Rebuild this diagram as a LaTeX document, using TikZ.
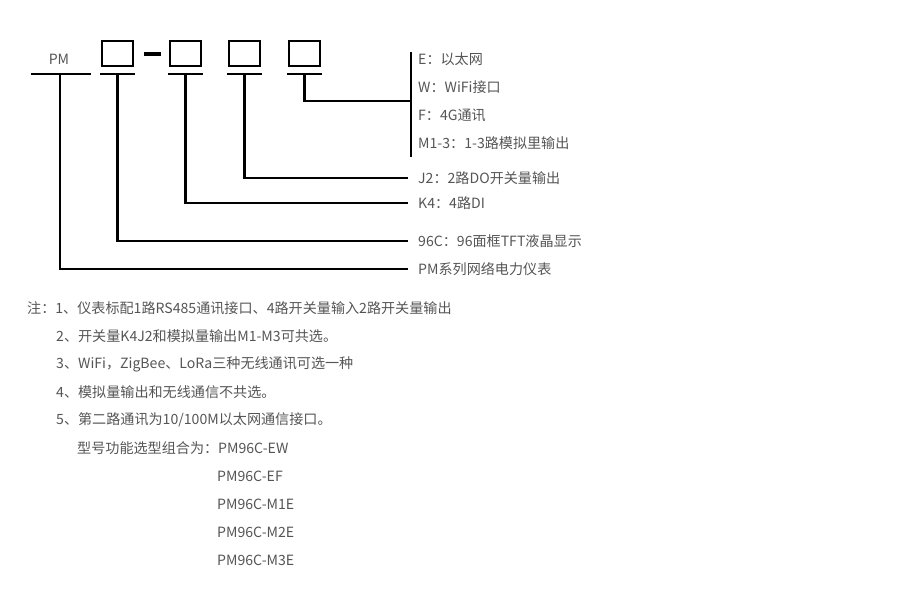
\documentclass[tikz,border=0pt]{standalone}
\usepackage{fontspec}
\setmainfont{Noto Sans CJK SC}
\usetikzlibrary{positioning}
\definecolor{txtgray}{RGB}{85,85,85}
\tikzset{
  code/.style={line width=2.8pt},
  lbl/.style={anchor=west, inner xsep=10pt, inner ysep=0pt, text=txtgray,
    font=\fontsize{14.1}{15}\selectfont},
  note/.style={anchor=west, inner sep=0pt, text=txtgray,
    font=\fontsize{14.1}{15}\selectfont}
}
\begin{document}
\begin{tikzpicture}
      [x=1pt,y=-1pt]
      \useasboundingbox (0,0) rectangle (900,605);
      \node[text=txtgray,font=\fontsize{14.1}{15}\selectfont] (pm) at (59,59) {PM};
      \draw[code] (31,74) -- (91,74);
      \coordinate (s0) at (60,74);
      \foreach \x [count=\i] in {102,170,229,289} {
        \draw[code] (\x,41) rectangle +(31,25);
        \draw[code] (\x-2,74) -- (\x+33,74);
        \coordinate (s\i) at (\x+15.5,74);
      }
      \draw[code,line width=3.8pt] (144,54) -- (161,54);

      % options of the last box
      \coordinate (btop) at (411,52);
      \coordinate (bmid) at (411,101);
      \coordinate (bbot) at (411,157);
      \node[lbl,inner xsep=7pt] (e) at (411,59) {E：以太网};
      \node[lbl,inner xsep=7pt] (w) at (411,87) {W：WiFi接口};
      \node[lbl,inner xsep=7pt] (f) at (411,115) {F：4G通讯};
      \node[lbl,inner xsep=7pt] (m) at (411,143) {M1-3：1-3路模拟里输出};
      \draw[code] (btop) -- (bbot);
      \draw[code] (s4) |- (bmid);

      \node[lbl] (j2) at (408,178) {J2：2路DO开关量输出};
      \node[lbl] (k4) at (408,203) {K4：4路DI};
      \node[lbl] (c96) at (408,241) {96C：96面框TFT液晶显示};
      \node[lbl] (series) at (408,269) {PM系列网络电力仪表};
      \draw[code] (s3) |- (j2.west);
      \draw[code] (s2) |- (k4.west);
      \draw[code] (s1) |- (c96.west);
      \draw[code] (s0) |- (series.west);

      % notes
      \node[note] (n1) at (27,308) {注：1、仪表标配1路RS485通讯接口、4路开关量输入2路开关量输出};
      \node[note] (n2) at (56,336) {2、开关量K4J2和模拟量输出M1-M3可共选。};
      \node[note] (n3) at (56,364) {3、WiFi，ZigBee、LoRa三种无线通讯可选一种};
      \node[note] (n4) at (56,392) {4、模拟量输出和无线通信不共选。};
      \node[note] (n5) at (56,420) {5、第二路通讯为10/100M以太网通信接口。};
      \node[note] (n6) at (77,448) {型号功能选型组合为：PM96C-EW};
      \foreach \t [count=\i] in {EF,M1E,M2E,M3E} {
        \node[note] (c\i) at (217,448+28*\i) {PM96C-\t};
      }
\end{tikzpicture}
\end{document}
